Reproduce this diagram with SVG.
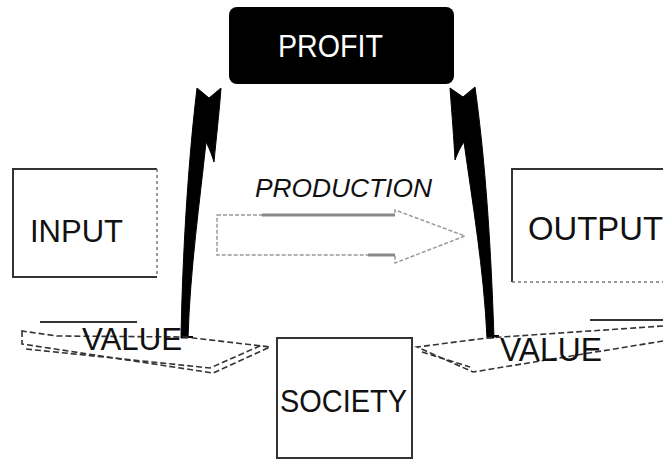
<svg xmlns="http://www.w3.org/2000/svg" width="663" height="462" viewBox="0 0 663 462">
  <style>
    .lbl { font-family: "Liberation Sans", Arial, sans-serif; fill: #111; }
    .box { fill: none; stroke: #333; stroke-width: 2; }
    .faint { fill: none; stroke: #777; stroke-width: 1.5; stroke-dasharray: 3 3; }
    .dash { fill: none; stroke: #333; stroke-width: 1.6; stroke-dasharray: 6 3; }
    .arrow { fill: #000; stroke: #000; stroke-width: 1; stroke-linejoin: miter; }
  </style>
  <rect width="663" height="462" fill="#fff"/>

  <g id="connectors">
    <!-- left curved arrow: society/value up to profit -->
    <path class="arrow" d="M 181,338 C 182,280 186,180 197,88 L 209,98 L 221,88 C 219,115 216,140 214,162 C 211,152 208,146 206,142 C 200,200 190,270 188,338 Z"/>
    <line x1="183" y1="337" x2="193" y2="337" stroke="#000" stroke-width="2"/>
    <!-- right curved arrow -->
    <path class="arrow" d="M 494,338 C 492,280 488,180 475,87 L 463,97 L 450,88 C 452,115 454,140 455,160 C 458,152 461,146 464,142 C 472,200 484,270 487,338 Z"/>
    <line x1="487" y1="336" x2="499" y2="336" stroke="#000" stroke-width="2"/>
    <!-- production block arrow -->
    <g id="production-arrow">
      <path d="M 217,215 L 395,215 L 395,210 L 465,236 L 395,263 L 395,255 L 217,255 Z" fill="none" stroke="#999" stroke-width="1.5" stroke-dasharray="4 2"/>
      <line x1="262" y1="215" x2="395" y2="215" stroke="#888" stroke-width="3"/>
      <line x1="368" y1="255" x2="395" y2="255" stroke="#888" stroke-width="3"/>
    </g>
  </g>

  <g id="profit">
    <rect x="229" y="7" width="225" height="77" rx="8" fill="#000"/>
    <text x="278" y="57" font-family="Liberation Sans, Arial, sans-serif" font-size="32" fill="#fff" textLength="105" lengthAdjust="spacingAndGlyphs">PROFIT</text>
  </g>

  <g id="production">
    <text class="lbl" x="255" y="197" font-size="26" font-style="italic" textLength="177" lengthAdjust="spacingAndGlyphs">PRODUCTION</text>
  </g>

  <g id="input">
    <path class="box" d="M 157,169 L 13,169 L 13,277 L 157,277"/>
    <line class="faint" x1="157" y1="169" x2="157" y2="277"/>
    <text class="lbl" x="30" y="242" font-size="32" textLength="93" lengthAdjust="spacingAndGlyphs">INPUT</text>
  </g>

  <g id="output">
    <path class="box" d="M 663,169 L 512,169 L 512,282"/>
    <line class="faint" x1="512" y1="282" x2="663" y2="282"/>
    <text class="lbl" x="528" y="240" font-size="33" textLength="135" lengthAdjust="spacingAndGlyphs">OUTPUT</text>
  </g>

  <g id="society">
    <rect class="box" x="277" y="338" width="135" height="120"/>
    <text class="lbl" x="280" y="412" font-size="32" textLength="127" lengthAdjust="spacingAndGlyphs">SOCIETY</text>
  </g>

  <g id="value-left">
    <path class="dash" d="M 22,331 L 22,344 L 213,373 L 270,347 L 185,337 L 57,336 Z"/>
    <path class="dash" d="M 26,349 L 210,368 L 262,345"/>
    <line x1="40" y1="322" x2="137" y2="322" stroke="#333" stroke-width="2"/>
    <text class="lbl" x="82" y="350" font-size="31" textLength="100" lengthAdjust="spacingAndGlyphs">VALUE</text>
  </g>

  <g id="value-right">
    <path class="dash" d="M 663,326 L 487,338 L 417,347 L 473,372 L 663,341"/>
    <path class="dash" d="M 422,352 L 470,367"/>
    <line x1="590" y1="320" x2="663" y2="320" stroke="#333" stroke-width="2"/>
    <text class="lbl" x="500" y="361" font-size="33" textLength="102" lengthAdjust="spacingAndGlyphs">VALUE</text>
  </g>
</svg>
